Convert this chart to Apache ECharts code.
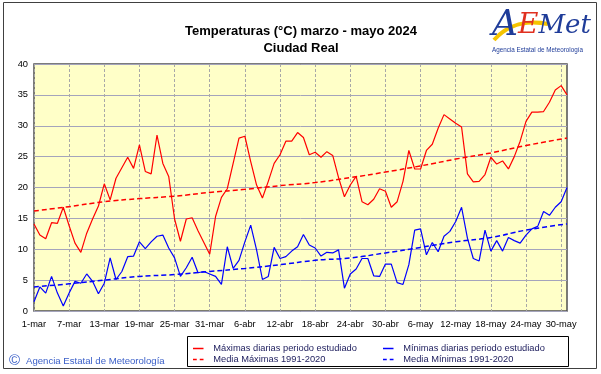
<!DOCTYPE html>
<html>
<head>
<meta charset="utf-8">
<script src="https://cdn.jsdelivr.net/npm/echarts@6/dist/echarts.min.js"></script>
<style>
html,body{margin:0;padding:0;background:#fff;}
#chart{width:601px;height:374px;}
</style>
</head>
<body>
<div id="chart"></div>
<script>
// ---- Data ----
const months = [['mar', 31], ['abr', 30], ['may', 31]];
const categories = [];
months.forEach(function (m) { for (let d = 1; d <= m[1]; d++) categories.push(d + '-' + m[0]); });

const maxTemps = [
  14.1, 12.3, 11.7, 14.3, 14.2, 16.8, 13.8, 11.0, 9.5, 12.6,
  14.9, 17.0, 20.6, 18.0, 21.5, 23.2, 24.9, 23.1, 26.9, 22.6,
  22.2, 28.5, 23.9, 21.8, 14.9, 11.3, 14.9, 15.1, 13.0, 11.1,
  9.2, 15.3, 18.4, 19.8, 23.9, 28.0, 28.3, 24.2, 20.4, 18.3,
  21.0, 23.9, 25.3, 27.5, 27.5, 28.9, 28.1, 25.3, 25.7, 24.9,
  25.8, 25.2, 21.6, 18.5, 20.4, 21.8, 17.7, 17.2, 18.1, 19.8,
  19.4, 16.8, 17.7, 21.0, 26.0, 23.0, 23.0, 26.0, 27.0, 29.6,
  31.8, 31.1, 30.4, 29.8, 22.2, 20.9, 21.0, 22.1, 24.9, 23.8,
  24.3, 23.0, 25.0, 27.5, 30.7, 32.2, 32.2, 32.3, 33.8, 35.8,
  36.5, 35.0
];
const minTemps = [
  1.5, 3.9, 2.9, 5.6, 2.9, 0.8, 2.9, 4.8, 4.5, 6.0,
  4.8, 2.8, 4.5, 8.6, 5.1, 6.4, 8.8, 8.9, 11.2, 10.1,
  11.2, 12.1, 12.3, 10.2, 8.6, 5.6, 7.0, 8.7, 6.2, 6.4,
  6.0, 5.6, 4.3, 10.4, 6.9, 8.2, 11.2, 13.9, 9.9, 5.1,
  5.6, 10.3, 8.5, 8.8, 9.7, 10.4, 12.4, 10.7, 10.2, 8.9,
  9.5, 9.4, 9.9, 3.7, 6.0, 6.8, 8.5, 8.5, 5.7, 5.6,
  7.6, 7.6, 4.6, 4.3, 7.5, 13.1, 13.3, 9.1, 11.1, 9.6,
  12.1, 12.9, 14.5, 16.8, 11.8, 8.5, 8.1, 13.1, 9.7, 11.4,
  9.7, 11.9, 11.4, 11.0, 12.3, 13.3, 13.7, 16.1, 15.5, 16.8,
  17.7, 20.0
];
// Normal (1991-2020) curves read at sampled days
const meanDays = [0, 6, 12, 18, 24, 30, 36, 42, 48, 54, 60, 66, 72, 78, 84, 91];
const meanMax  = [16.2, 16.9, 17.7, 18.2, 18.6, 19.2, 19.7, 20.3, 20.8, 21.6, 22.5, 23.5, 24.6, 25.6, 26.8, 28.0];
const meanMin  = [3.9, 4.4, 5.0, 5.6, 5.9, 6.4, 6.9, 7.5, 8.2, 8.6, 9.4, 10.3, 11.2, 11.9, 13.1, 14.1];

const yTicks = [0, 5, 10, 15, 20, 25, 30, 35, 40];

const names = {
  max: 'Máximas diarias periodo estudiado',
  min: 'Mínimas diarias periodo estudiado',
  mmax: 'Media Máximas 1991-2020',
  mmin: 'Media Mínimas 1991-2020'
};

// ---- Chart ----
const chart = echarts.init(document.getElementById('chart'), null, { renderer: 'canvas' });
const F = 'Liberation Sans, Arial, sans-serif';

const pairs = (xs, ys) => xs.map((x, k) => [x, ys[k]]);

const legendText = { color: '#1c1c5c', fontSize: 9.3, fontFamily: F, padding: [0, 0, 0, 3] };
const solidIcon = 'path://M0,0h14v2h-14z';
const dashIcon = 'path://M0,0h5v2h-5zM9,0h5v2h-5z';

chart.setOption({
  animation: false,
  backgroundColor: '#ffffff',
  title: {
    text: 'Temperaturas (°C) marzo - mayo 2024\nCiudad Real',
    left: 296, top: 18, textAlign: 'center',
    textStyle: { fontSize: 13, fontWeight: 'bold', fontFamily: F, color: '#000', lineHeight: 17 }
  },
  grid: {
    left: 34, right: 34, top: 64, bottom: 63,
    show: true, backgroundColor: '#FFFFC8', borderColor: '#505050', borderWidth: 1.5
  },
  legend: [
    {
      orient: 'vertical', left: 188, top: 339, itemWidth: 14, itemHeight: 1.5, itemGap: 2,
      data: [{ name: names.max, icon: solidIcon }, { name: names.mmax, icon: dashIcon }],
      textStyle: legendText
    },
    {
      orient: 'vertical', left: 378, top: 339, itemWidth: 14, itemHeight: 1.5, itemGap: 2,
      data: [{ name: names.min, icon: solidIcon }, { name: names.mmin, icon: dashIcon }],
      textStyle: legendText
    }
  ],
  xAxis: {
    type: 'category', data: categories, boundaryGap: false,
    axisLine: { show: false }, axisTick: { show: false },
    axisLabel: { interval: 5, margin: 9, fontSize: 9.3, fontFamily: F, color: '#000' },
    splitLine: { show: true, interval: 5, lineStyle: { color: '#a8a8a8', type: [3, 2], width: 1 } }
  },
  yAxis: {
    type: 'value', min: 0, max: 40, interval: 5,
    axisLine: { show: false }, axisTick: { show: false },
    axisLabel: { margin: 6, fontSize: 9.3, fontFamily: F, color: '#000',
      formatter: function (v) { return yTicks.indexOf(v) >= 0 ? String(v) : ''; } },
    splitLine: { show: true, lineStyle: { color: '#a4a4bc', width: 1 } }
  },
  series: [
    { name: names.mmin, type: 'line', data: pairs(meanDays, meanMin), symbol: 'none', smooth: true,
      lineStyle: { color: '#0000ff', width: 1.5, type: [5, 3] }, itemStyle: { color: '#0000ff' } },
    { name: names.mmax, type: 'line', data: pairs(meanDays, meanMax), symbol: 'none', smooth: true,
      lineStyle: { color: '#ff0000', width: 1.5, type: [5, 3] }, itemStyle: { color: '#ff0000' } },
    { name: names.min, type: 'line', data: minTemps, symbol: 'none',
      lineStyle: { color: '#0000ff', width: 1.2 }, itemStyle: { color: '#0000ff' } },
    { name: names.max, type: 'line', data: maxTemps, symbol: 'none',
      lineStyle: { color: '#ff0000', width: 1.2 }, itemStyle: { color: '#ff0000' } }
  ],
  graphic: [
    { type: 'rect', shape: { x: 3.5, y: 2.5, width: 593, height: 366 }, silent: true, z: -10,
      style: { fill: 'none', stroke: '#404040', lineWidth: 1 } },
    { type: 'rect', shape: { x: 187.5, y: 336.5, width: 381, height: 30 }, silent: true, z: -5,
      style: { fill: '#ffffff', stroke: '#000000', lineWidth: 1 } },
    { type: 'text', left: 9, top: 353, silent: true,
      style: { text: '©', fontSize: 15, fontFamily: F, fill: '#3a5fc8' } },
    { type: 'text', left: 26, top: 356, silent: true,
      style: { text: 'Agencia Estatal de Meteorología', fontSize: 9.6, fontFamily: F, fill: '#3a5fc8' } },
    // AEMet logo
    { type: 'bezierCurve', silent: true,
      shape: { x1: 494, y1: 40, x2: 548, y2: 24, cpx1: 508, cpy1: 24, cpx2: 528, cpy2: 20 },
      style: { stroke: '#f5c400', lineWidth: 4, fill: 'none' } },
    { type: 'text', left: 492, top: 8, silent: true,
      style: {
        text: '{a|A}{e|E}{m|Met}',
        rich: {
          a: { fontSize: 36, fontStyle: 'italic', fontFamily: 'DejaVu Serif, serif', fill: '#1f3c99' },
          e: { fontSize: 28, fontStyle: 'italic', fontFamily: 'DejaVu Serif, serif', fill: '#e03020' },
          m: { fontSize: 26, fontStyle: 'italic', fontFamily: 'DejaVu Serif, serif', fill: '#1f3c99' }
        }
      } },
    { type: 'text', left: 492, top: 47, silent: true,
      style: { text: 'Agencia Estatal de Meteorología', fontSize: 6.3, fontFamily: F, fill: '#1f3c99' } }
  ]
});
</script>
</body>
</html>
